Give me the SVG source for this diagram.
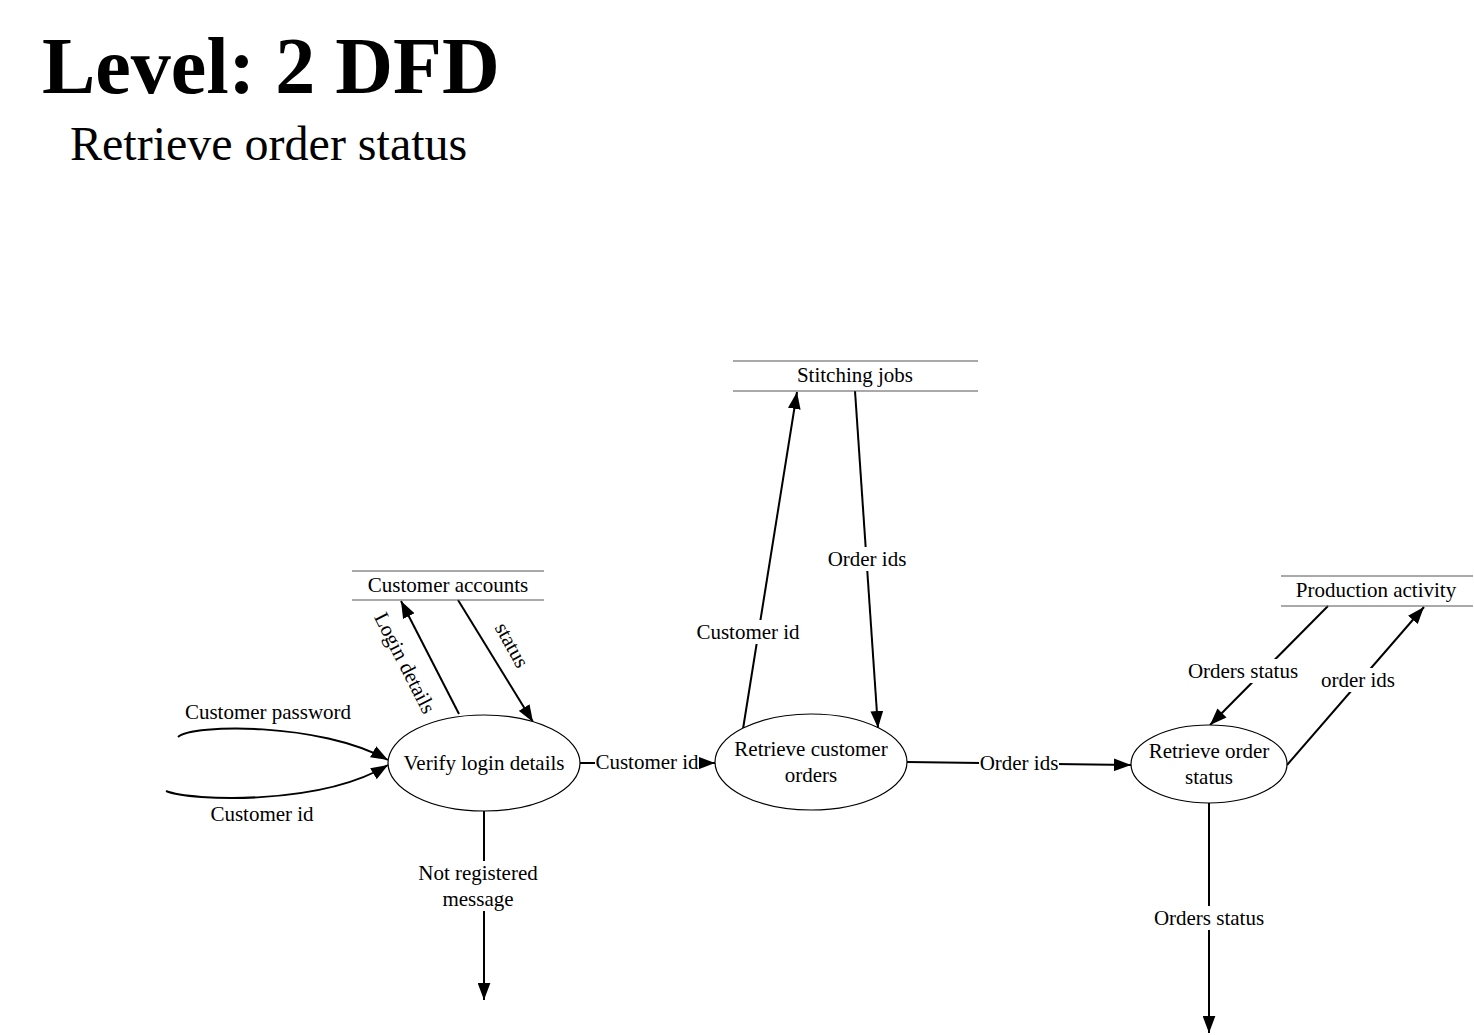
<svg xmlns="http://www.w3.org/2000/svg" width="1474" height="1035" viewBox="0 0 1474 1035">
<defs>
<marker id="arr" viewBox="0 0 16 12" refX="16" refY="6" markerWidth="17" markerHeight="13" markerUnits="userSpaceOnUse" orient="auto">
<path d="M0,0 L16,6 L0,12 Z" fill="#000"/>
</marker>
</defs>
<style>
.t{font-family:"Liberation Serif","Times New Roman",serif;fill:#000}
.lbl{font-family:"Liberation Serif","Times New Roman",serif;font-size:21px;fill:#000;text-anchor:middle}
.bg{fill:#fff}
.proc{fill:#fff;stroke:#000;stroke-width:1.2}
.store{stroke:#555;stroke-width:1.2}
.flow{fill:none;stroke:#000;stroke-width:2;marker-end:url(#arr)}
</style>
<rect width="1474" height="1035" fill="#fff"/>
<text class="t" x="42" y="93" font-size="80" font-weight="bold">Level: 2 DFD</text>
<text class="t" x="70" y="160" font-size="48">Retrieve order status</text>

<g id="connectors">
<path class="flow" d="M178,737 C192,724 320,722 388,760"/>
<path class="flow" d="M166,791 C190,801 320,806 388,765"/>
<line class="flow" x1="459" y1="714" x2="401" y2="601"/>
<line class="flow" x1="458" y1="600" x2="533" y2="722"/>
<line class="flow" x1="580" y1="763" x2="715" y2="763"/>
<line class="flow" x1="743" y1="729" x2="797" y2="392"/>
<line class="flow" x1="855" y1="391" x2="878" y2="728"/>
<line class="flow" x1="907" y1="762" x2="1131" y2="765"/>
<line class="flow" x1="1328" y1="606" x2="1210" y2="725"/>
<line class="flow" x1="1287" y1="765" x2="1424" y2="607"/>
<line class="flow" x1="484" y1="811" x2="484" y2="1000"/>
<line class="flow" x1="1209" y1="803" x2="1209" y2="1033"/>
<rect class="bg" x="595" y="750" width="104" height="24"/>
<rect class="bg" x="696" y="620" width="106" height="24"/>
<rect class="bg" x="826" y="547" width="82" height="24"/>
<rect class="bg" x="979" y="751" width="80" height="24"/>
<rect class="bg" x="1186" y="659" width="114" height="24"/>
<rect class="bg" x="1320" y="668" width="78" height="24"/>
<rect class="bg" x="416" y="861" width="124" height="50"/>
<rect class="bg" x="1152" y="906" width="114" height="24"/>
<text class="lbl" x="268" y="719">Customer password</text>
<text class="lbl" x="262" y="821">Customer id</text>
<text class="lbl" transform="translate(405,663) rotate(63)" y="7">Login details</text>
<text class="lbl" transform="translate(512,645) rotate(61)" y="7">status</text>
<text class="lbl" x="647" y="769">Customer id</text>
<text class="lbl" x="748" y="639">Customer id</text>
<text class="lbl" x="867" y="566">Order ids</text>
<text class="lbl" x="1019" y="770">Order ids</text>
<text class="lbl" x="1243" y="678">Orders status</text>
<text class="lbl" x="1358" y="687">order ids</text>
<text class="lbl" x="478" y="880">Not registered</text>
<text class="lbl" x="478" y="906">message</text>
<text class="lbl" x="1209" y="925">Orders status</text>
</g>

<g id="store-customer-accounts">
<line class="store" x1="352" y1="571" x2="544" y2="571"/>
<line class="store" x1="352" y1="600" x2="544" y2="600"/>
<text class="t" x="448" y="592" font-size="21" text-anchor="middle">Customer accounts</text>
</g>
<g id="store-stitching-jobs">
<line class="store" x1="733" y1="361" x2="978" y2="361"/>
<line class="store" x1="733" y1="391" x2="978" y2="391"/>
<text class="t" x="855" y="382" font-size="21" text-anchor="middle">Stitching jobs</text>
</g>
<g id="store-production-activity">
<line class="store" x1="1281" y1="576" x2="1473" y2="576"/>
<line class="store" x1="1281" y1="606" x2="1473" y2="606"/>
<text class="t" x="1376" y="597" font-size="21" text-anchor="middle">Production activity</text>
</g>
<g id="proc-verify">
<ellipse class="proc" cx="484" cy="763" rx="96" ry="48"/>
<text class="t" x="484" y="770" font-size="21" text-anchor="middle">Verify login details</text>
</g>
<g id="proc-retrieve-orders">
<ellipse class="proc" cx="811" cy="762" rx="96" ry="48"/>
<text class="t" x="811" y="756" font-size="21" text-anchor="middle">Retrieve customer</text>
<text class="t" x="811" y="782" font-size="21" text-anchor="middle">orders</text>
</g>
<g id="proc-retrieve-status">
<ellipse class="proc" cx="1209" cy="764" rx="78" ry="39"/>
<text class="t" x="1209" y="758" font-size="21" text-anchor="middle">Retrieve order</text>
<text class="t" x="1209" y="784" font-size="21" text-anchor="middle">status</text>
</g>
</svg>
